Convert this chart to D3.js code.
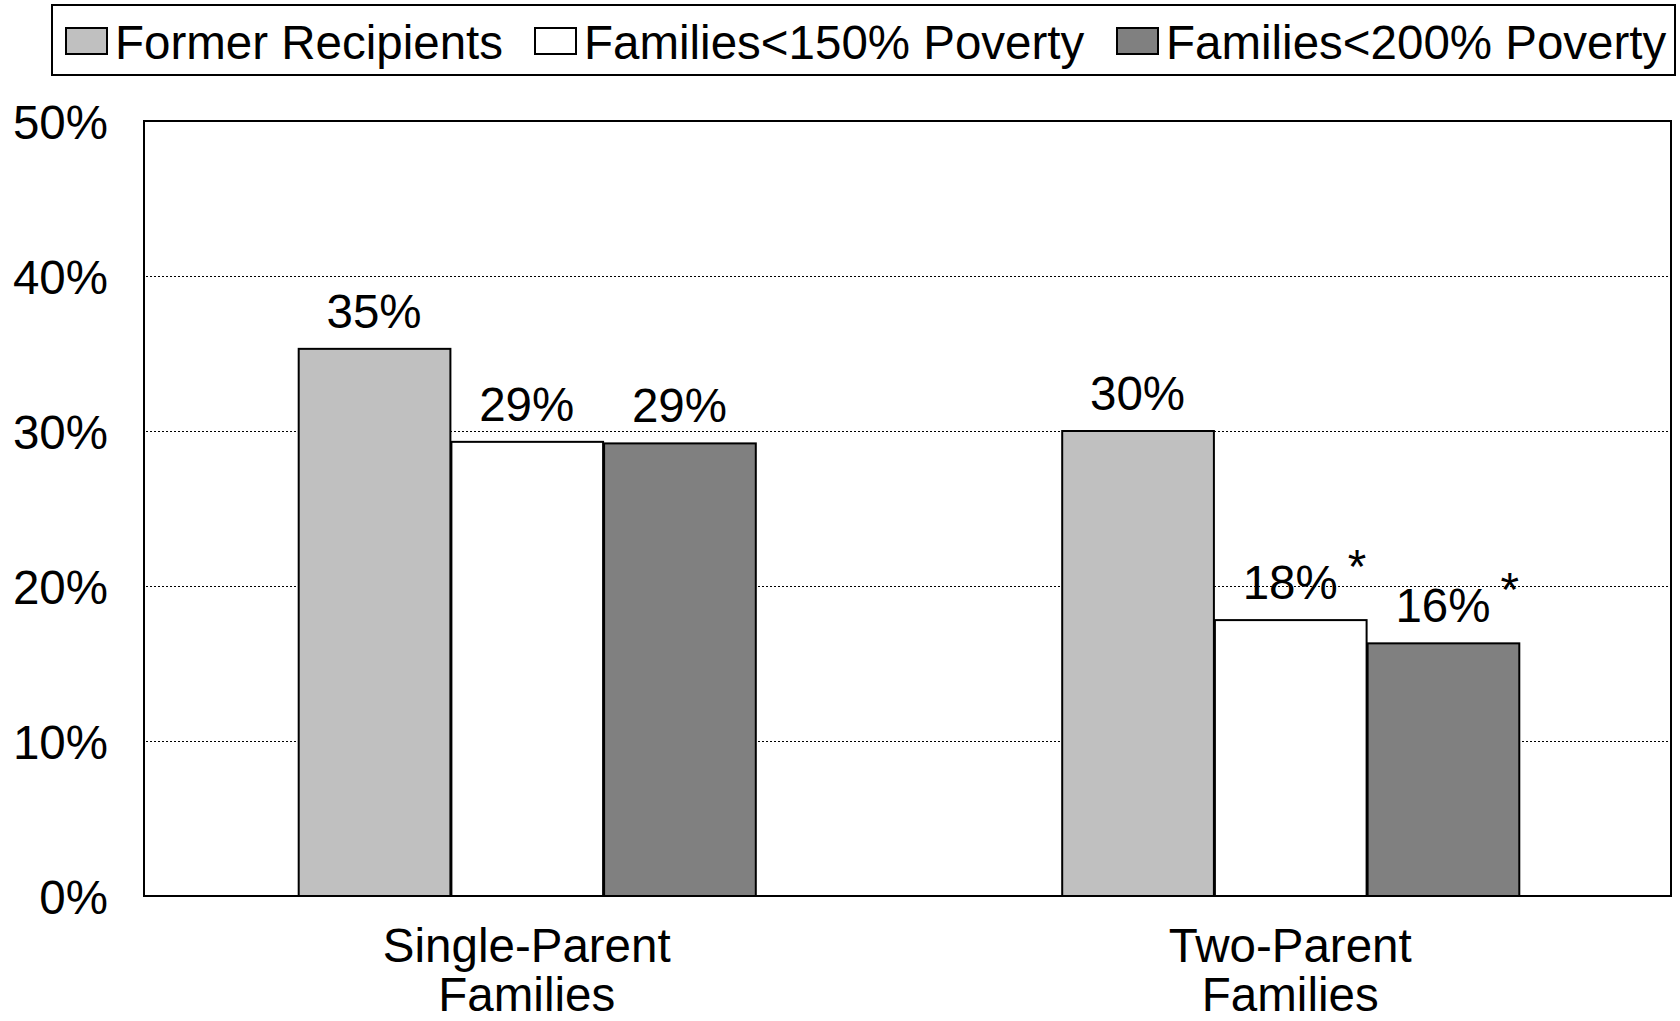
<!DOCTYPE html>
<html>
<head>
<meta charset="utf-8">
<script src="https://cdn.jsdelivr.net/npm/d3@7/dist/d3.min.js"></script>
<style>
  html, body { margin: 0; padding: 0; background: #fff; }
  svg { display: block; }
  text { font-family: "Liberation Sans", Arial, Helvetica, sans-serif; fill: #000; }
</style>
</head>
<body>
<svg id="chart" width="1680" height="1021"></svg>
<script>
// Family types along the x axis (two-line labels)
const categories = ["Single-Parent Families", "Two-Parent Families"];
const categoryLines = [["Single-Parent", "Families"], ["Two-Parent", "Families"]];

// Comparison groups
const seriesNames = ["Former Recipients", "Families<150% Poverty", "Families<200% Poverty"];
const seriesColors = ["#c0c0c0", "#ffffff", "#808080"];

// Share of families (percent), one array per series, ordered like categories
const formerRecipients = [35.3, 30.0];
const familiesUnder150 = [29.3, 17.8];
const familiesUnder200 = [29.2, 16.3];

// Differences marked as statistically significant (asterisk)
const significant150 = [false, true];
const significant200 = [false, true];

// Y axis ticks (percent)
const yTicks = [0, 10, 20, 30, 40, 50];

const seriesValues = [formerRecipients, familiesUnder150, familiesUnder200];
const seriesFlags = [[false, false], significant150, significant200];

const svg = d3.select("#chart");
const FONT = 47.5;

const plot = { left: 144, right: 1671, top: 121, bottom: 896 };

const x0 = d3.scaleBand()
  .domain(categories)
  .range([plot.left + 1, plot.right + 1])
  .paddingInner(0.4)
  .paddingOuter(0.2);

const x1 = d3.scaleBand()
  .domain(seriesNames)
  .range([0, x0.bandwidth()])
  .padding(0);

const y = d3.scaleLinear().domain([0, 50]).range([plot.bottom, plot.top]);

// Dotted gridlines
svg.append("g")
  .selectAll("line")
  .data(yTicks.filter(t => t > 0 && t < 50))
  .join("line")
  .attr("x1", plot.left + 2)
  .attr("x2", plot.right - 1)
  .attr("y1", d => y(d) + 0.5)
  .attr("y2", d => y(d) + 0.5)
  .attr("stroke", "#000")
  .attr("stroke-width", 1)
  .attr("stroke-dasharray", "2,2");

// Y axis labels
const yAxis = d3.axisLeft(y)
  .tickValues(yTicks)
  .tickFormat(d => d + "%")
  .tickSize(0)
  .tickPadding(36);

svg.append("g")
  .attr("transform", `translate(${plot.left},0)`)
  .call(yAxis)
  .call(g => g.select(".domain").remove())
  .call(g => g.selectAll("text")
    .attr("font-size", FONT)
    .attr("font-family", '"Liberation Sans", Arial, sans-serif')
    .attr("fill", "#000")
    .attr("dy", "0.36em"));

// Bars
const rows = [];
categories.forEach((c, ci) => {
  seriesNames.forEach((s, si) => {
    rows.push({ cat: c, ci, series: s, si, value: seriesValues[si][ci], flag: seriesFlags[si][ci] });
  });
});

const barG = svg.append("g");
barG.selectAll("rect")
  .data(rows)
  .join("rect")
  .attr("x", d => x0(d.cat) + x1(d.series) + 1)
  .attr("y", d => y(d.value))
  .attr("width", x1.bandwidth() - 1)
  .attr("height", d => y(0) - y(d.value))
  .attr("fill", d => seriesColors[d.si])
  .attr("stroke", "#000")
  .attr("stroke-width", 2);

// Value labels
const labelG = svg.append("g");
const labels = labelG.selectAll("text.value")
  .data(rows)
  .join("text")
  .attr("class", "value")
  .attr("x", d => x0(d.cat) + x1(d.series) + x1.bandwidth() / 2)
  .attr("y", d => y(d.value) - 21)
  .attr("text-anchor", "middle")
  .attr("font-size", FONT)
  .text(d => Math.round(d.value) + "%");

// Asterisks for significant differences
labels.each(function(d) {
  if (!d.flag) return;
  const w = this.getComputedTextLength();
  labelG.append("text")
    .attr("x", x0(d.cat) + x1(d.series) + x1.bandwidth() / 2 + w / 2 + 10)
    .attr("y", y(d.value) - 21 - 16)
    .attr("font-size", FONT)
    .text("*");
});

// Plot frame
svg.append("rect")
  .attr("x", plot.left)
  .attr("y", plot.top)
  .attr("width", plot.right - plot.left)
  .attr("height", plot.bottom - plot.top)
  .attr("fill", "none")
  .attr("stroke", "#000")
  .attr("stroke-width", 2);

// Category labels
const catG = svg.append("g");
categories.forEach((c, ci) => {
  const t = catG.append("text")
    .attr("text-anchor", "middle")
    .attr("font-size", FONT)
    .attr("x", x0(c) + x0.bandwidth() / 2)
    .attr("y", 962);
  categoryLines[ci].forEach((line, li) => {
    t.append("tspan")
      .attr("x", x0(c) + x0.bandwidth() / 2)
      .attr("dy", li === 0 ? 0 : 49)
      .text(line);
  });
});

// Legend
const legend = svg.append("g");
legend.append("rect")
  .attr("x", 52).attr("y", 5)
  .attr("width", 1623).attr("height", 70)
  .attr("fill", "#fff")
  .attr("stroke", "#000")
  .attr("stroke-width", 2);

const legendX = [66, 535, 1117];
seriesNames.forEach((s, i) => {
  const g = legend.append("g").attr("transform", `translate(${legendX[i]},0)`);
  g.append("rect")
    .attr("x", 0).attr("y", 28)
    .attr("width", 41).attr("height", 26)
    .attr("fill", seriesColors[i])
    .attr("stroke", "#000")
    .attr("stroke-width", 2);
  g.append("text")
    .attr("x", 49)
    .attr("y", 59)
    .attr("font-size", FONT)
    .text(s);
});
</script>
</body>
</html>
